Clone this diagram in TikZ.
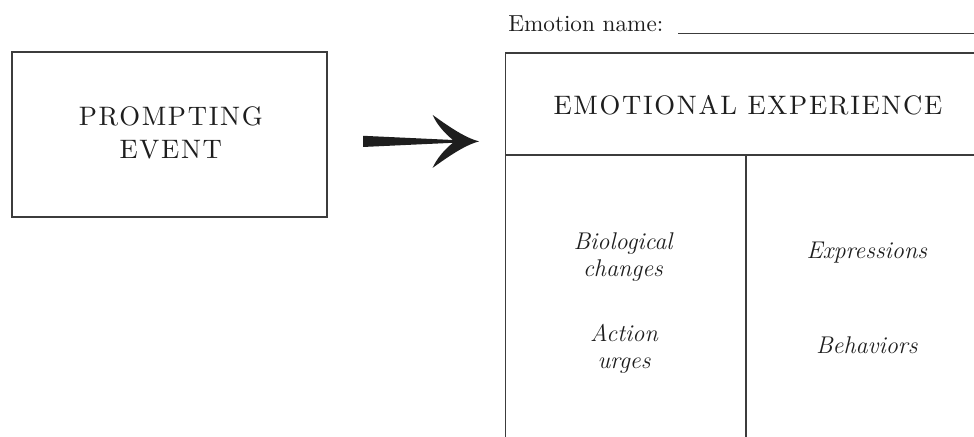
\documentclass[tikz,border=0pt]{standalone}
\usepackage{fontspec}
\usepackage{tikz}
\newfontfamily\spacedfont{lmroman10-regular}[Extension=.otf, LetterSpace=6.3]
\newfontfamily\namefont{lmroman10-regular}[Extension=.otf]
\definecolor{ink}{HTML}{1E1E1E}
\definecolor{rule}{HTML}{3C3C3C}
\tikzset{
	caps/.style={font=\spacedfont\fontsize{19}{23.7}\selectfont, text=ink, align=center, inner sep=0pt},
	cell/.style={font=\fontsize{17.2}{19.2}\selectfont\itshape, text=ink, align=center, inner sep=0pt},
	frame/.style={draw=rule, line width=0.8pt}
}
\begin{document}
\begin{tikzpicture}
	
	\useasboundingbox (0,0) rectangle (24.35,10.925);
	
	% prompting event box
	\node[frame, minimum width=7.875cm, minimum height=4.125cm] (prompt) at (4.2375,7.5625) {};
	\node[caps] (prompttext) at (4.27,7.6) {PROMPTING\\EVENT};
	
	% arrow
	\coordinate (arrowtail) at (9.075,7.39);
	\coordinate (arrowtip) at (11.98,7.39);
	\fill[ink] ([yshift=0.14cm]arrowtail) -- (11.325,7.425)
	.. controls (11.1,7.6) and (10.9,7.85) .. (10.818,8.05)
	.. controls (11.1,7.85) and (11.6,7.48) .. (arrowtip)
	.. controls (11.6,7.3) and (11.1,6.93) .. (10.818,6.73)
	.. controls (10.9,6.93) and (11.1,7.18) .. (11.325,7.355)
	-- ([yshift=-0.14cm]arrowtail) -- cycle;
	
	% emotion name
	\node[anchor=base west, inner sep=0pt, text=ink, font=\namefont\fontsize{16.5}{20}\selectfont] (emoname) at (12.7,10.125) {Emotion name:};
	\coordinate (blankend) at (24.35,10.1);
	\draw[rule, line width=0.6pt] (16.95,10.1) -- (blankend);
	
	% experience table
	\draw[frame] (12.64,0) -- (12.64,9.6) -- (24.35,9.6);
	\draw[frame] (12.64,7.05) -- (24.35,7.05);
	\draw[frame] (18.65,0) -- (18.65,7.05);
	
	\node[caps] (experience) at (18.7,8.3) {EMOTIONAL EXPERIENCE};
	
	% cells
	\node[cell] (bio) at (15.575,4.5) {Biological\\changes};
	\node[cell] (urges) at (15.6,2.2) {Action\\urges};
	\node[cell] (expr) at (21.67,4.6) {Expressions};
	\node[cell] (behav) at (21.67,2.3) {Behaviors};
	
\end{tikzpicture}
\end{document}
